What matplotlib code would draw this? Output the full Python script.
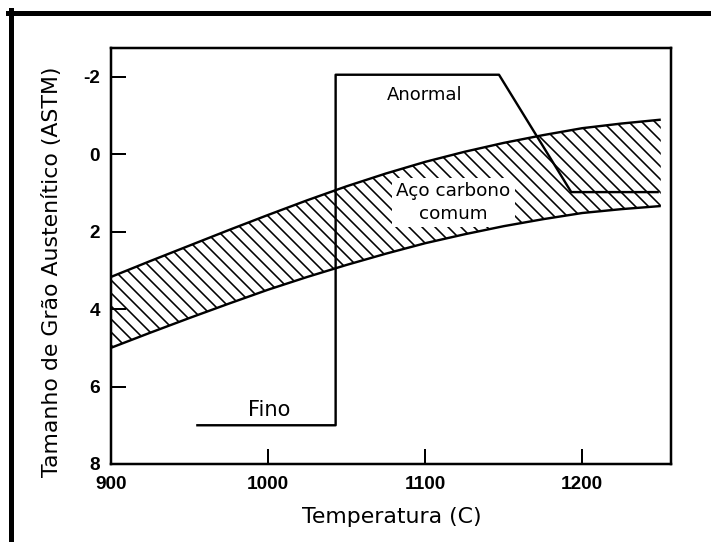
import numpy as np
import matplotlib
matplotlib.use("Agg")
import matplotlib.pyplot as plt
from matplotlib.lines import Line2D

# data
temp = [900, 925, 950, 975, 1000, 1025, 1050, 1075, 1100,
        1125, 1150, 1175, 1200, 1225, 1250]
band_top = [3.17, 2.76, 2.36, 1.96, 1.57, 1.19, 0.83, 0.50, 0.20,
            -0.06, -0.29, -0.49, -0.67, -0.79, -0.89]
band_bottom = [5.00, 4.61, 4.23, 3.86, 3.50, 3.17, 2.86, 2.57, 2.30,
               2.07, 1.86, 1.68, 1.52, 1.42, 1.34]

step_t = [955, 1043, 1043, 1147, 1193, 1248]
step_v = [7.0, 7.0, -2.05, -2.05, 0.98, 0.98]

xticks = [900, 1000, 1100, 1200]
yticks = [-2, 0, 2, 4, 6, 8]

DPI = 78
W, H = 711, 542


def pt(px):
    # pixel size -> points at this dpi
    return px * 72.0 / DPI


plt.rcParams["hatch.linewidth"] = pt(1.6)
plt.rcParams["axes.unicode_minus"] = False
plt.rcParams["font.family"] = ["DejaVu Sans"]

fig = plt.figure(figsize=(W / DPI, H / DPI), dpi=DPI)
ax = fig.add_axes([111 / W, 1 - 464 / H, 560 / W, 416 / H])

t = np.array(temp)
top = np.array(band_top)
bot = np.array(band_bottom)

ax.fill_between(t, top, bot, facecolor="white", edgecolor="black",
                hatch="\\\\", linewidth=0, zorder=1)
ax.plot(t, top, color="black", lw=pt(2.4), zorder=3, solid_capstyle="butt")
ax.plot(t, bot, color="black", lw=pt(2.4), zorder=3, solid_capstyle="butt")
ax.plot(step_t, step_v, color="black", lw=pt(2.4), zorder=4)

ax.text(1100, -1.39, "Anormal", ha="center", va="baseline",
        fontsize=pt(18), zorder=5)
ax.text(1001, 6.76, "Fino", ha="center", va="baseline",
        fontsize=pt(21), zorder=5)
ax.text(1118, 1.25, "Aço carbono\ncomum", ha="center", va="center",
        fontsize=pt(18.4), linespacing=1.4, multialignment="center",
        bbox=dict(facecolor="white", edgecolor="none", pad=pt(4)), zorder=2)

ax.set_xlim(900, 1256.5)
ax.set_ylim(8, -2.74)
ax.set_xticks(xticks)
ax.set_yticks(yticks)

for s in ax.spines.values():
    s.set_linewidth(pt(2.5))

ax.tick_params(direction="in", length=pt(15), width=pt(2), top=False,
               right=False, colors="black")
ax.tick_params(axis="x", pad=pt(12))
ax.tick_params(axis="y", pad=pt(11))
for lab in ax.get_xticklabels() + ax.get_yticklabels():
    lab.set_family("Liberation Sans")
    lab.set_weight("bold")
    lab.set_fontsize(pt(19))

ax.set_xlabel("Temperatura (C)", fontsize=pt(22), va="center")
ax.set_ylabel("Tamanho de Grão Austenítico (ASTM)", fontsize=pt(22), va="center")
ax.xaxis.set_label_coords((392 - 111) / 560, (464 - 517) / 416)
ax.yaxis.set_label_coords((52 - 111) / 560, (464 - 272) / 416)

# black frame on top and left of the image
fig.add_artist(Line2D([8 / W, 1], [1 - 12.5 / H, 1 - 12.5 / H],
                      transform=fig.transFigure, color="black", lw=pt(5)))
fig.add_artist(Line2D([10.5 / W, 10.5 / W], [0, 1 - 10 / H],
                      transform=fig.transFigure, color="black", lw=pt(5)))

fig.savefig("out.png", dpi=DPI, facecolor="white")
